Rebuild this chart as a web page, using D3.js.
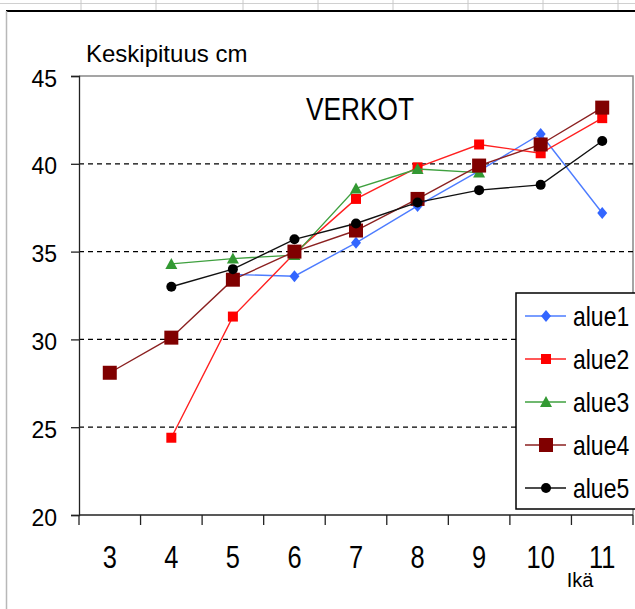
<!DOCTYPE html>
<html>
<head>
<meta charset="utf-8">
<script src="https://cdn.jsdelivr.net/npm/d3@7"></script>
<style>
  html, body { margin: 0; padding: 0; background: #fff; }
  svg { display: block; font-family: "Liberation Sans", Arial, sans-serif; }
</style>
</head>
<body>
<svg id="chart" width="635" height="609"></svg>
<script>
// ages on the x axis (Ikä)
const ages = [3, 4, 5, 6, 7, 8, 9, 10, 11];
const yTicks = [20, 25, 30, 35, 40, 45];
const gridValues = [25, 30, 35, 40];

// mean length (cm) per area, null = no catch
const alue1 = [null, null, 33.7, 33.6, 35.5, 37.6, 39.6, 41.7, 37.2];
const alue2 = [null, 24.4, 31.3, 34.9, 38.0, 39.8, 41.1, 40.6, 42.6];
const alue3 = [null, 34.3, 34.6, 34.8, 38.6, 39.7, 39.5, null, null];
const alue4 = [28.1, 30.1, 33.4, 35.0, 36.2, 38.0, 39.9, 41.1, 43.2];
const alue5 = [null, 33.0, 34.0, 35.7, 36.6, 37.8, 38.5, 38.8, 41.3];

const seriesNames = ["alue1", "alue2", "alue3", "alue4", "alue5"];
const seriesValues = [alue1, alue2, alue3, alue4, alue5];

const styles = {
  alue1: { color: "#3366ff", line: "#4d7cff", shape: "diamond", size: 6 },
  alue2: { color: "#ff0000", line: "#ff2020", shape: "square", size: 5 },
  alue3: { color: "#339933", line: "#3fa03f", shape: "triangle", size: 6 },
  alue4: { color: "#800000", line: "#8b2020", shape: "square", size: 7 },
  alue5: { color: "#000000", line: "#111111", shape: "circle", size: 5 },
};

const svg = d3.select("svg#chart");
const plot = { left: 79, right: 633, top: 76, bottom: 515 };
const squeeze = 0.82; // no narrow font installed, so squeeze horizontally

const x = d3.scaleBand().domain(ages).range([plot.left, plot.right]);
const y = d3.scaleLinear().domain([20, 45]).range([plot.bottom, plot.top]);
const cx = (d) => x(d) + x.bandwidth() / 2;

// spreadsheet background bits around the chart object
const sheet = svg.append("g");
sheet.append("line").attr("x1", 0).attr("x2", 635).attr("y1", 3.5).attr("y2", 3.5)
  .attr("stroke", "#d0d0d0");
[81, 156, 243, 318, 393, 468, 543, 618].forEach((sx) => {
  sheet.append("line").attr("x1", sx).attr("x2", sx).attr("y1", 0).attr("y2", 10)
    .attr("stroke", "#c8c8c8");
});
sheet.append("line").attr("x1", 6).attr("x2", 635).attr("y1", 11).attr("y2", 11)
  .attr("stroke", "#000").attr("stroke-width", 2);
sheet.append("line").attr("x1", 6.5).attr("x2", 6.5).attr("y1", 11).attr("y2", 609)
  .attr("stroke", "#b8b8b8").attr("stroke-width", 1.5);

// plot area border (top + right)
svg.append("path")
  .attr("d", `M${plot.left},${plot.top}H${plot.right}V${plot.bottom}`)
  .attr("fill", "none").attr("stroke", "#888").attr("stroke-width", 1.5);

// dashed gridlines
svg.append("g")
  .selectAll("line")
  .data(gridValues)
  .join("line")
  .attr("x1", plot.left).attr("x2", plot.right)
  .attr("y1", (d) => y(d)).attr("y2", (d) => y(d))
  .attr("stroke", "#000").attr("stroke-width", 1.3)
  .attr("stroke-dasharray", "5,4");

// y axis
const yAxis = svg.append("g")
  .attr("transform", `translate(${plot.left},0)`)
  .call(d3.axisLeft(y).tickValues(yTicks).tickSize(8).tickPadding(14));
yAxis.select(".domain").attr("stroke", "#222").attr("stroke-width", 1.3);
yAxis.selectAll(".tick line").attr("stroke", "#222").attr("stroke-width", 1.3);
yAxis.selectAll(".tick text")
  .attr("font-size", 23).attr("font-family", "Liberation Sans, Arial, sans-serif")
  .attr("fill", "#000").attr("dy", 10);

// x axis: ticks on the band edges, labels in the middle
const xAxis = svg.append("g");
xAxis.append("line")
  .attr("x1", plot.left).attr("x2", plot.right)
  .attr("y1", plot.bottom).attr("y2", plot.bottom)
  .attr("stroke", "#222").attr("stroke-width", 1.3);
xAxis.selectAll("line.tick")
  .data(ages.map((d) => x(d)).concat([x.range()[1]]))
  .join("line")
  .attr("class", "tick")
  .attr("x1", (d) => d).attr("x2", (d) => d)
  .attr("y1", plot.bottom).attr("y2", plot.bottom + 10)
  .attr("stroke", "#222").attr("stroke-width", 1.3);
xAxis.selectAll("text")
  .data(ages)
  .join("text")
  .attr("transform", (d) => `translate(${cx(d)},568) scale(${squeeze},1)`)
  .attr("text-anchor", "middle")
  .attr("font-size", 31)
  .text((d) => d);

// texts
svg.append("text").attr("x", 86).attr("y", 62).attr("font-size", 24)
  .text("Keskipituus cm");
svg.append("text")
  .attr("transform", `translate(360,120) scale(${squeeze},1)`)
  .attr("text-anchor", "middle").attr("font-size", 32)
  .text("VERKOT");
svg.append("text").attr("x", 580).attr("y", 587).attr("text-anchor", "middle")
  .attr("font-size", 20).text("Ikä");

// marker shapes
function marker(sel, name) {
  const s = styles[name];
  const r = s.size;
  let d;
  if (s.shape === "diamond") d = `M0,${-r}L${r - 1},0L0,${r}L${-(r - 1)},0Z`;
  else if (s.shape === "square") d = `M${-r},${-r}H${r}V${r}H${-r}Z`;
  else if (s.shape === "triangle") d = `M0,${-r}L${r},${r - 1}H${-r}Z`;
  else d = d3.symbol(d3.symbolCircle, Math.PI * r * r)();
  sel.append("path").attr("d", d).attr("fill", s.color);
}

// series
const line = d3.line()
  .defined((d) => d.v != null)
  .x((d) => cx(d.age))
  .y((d) => y(d.v));

seriesNames.forEach((name, i) => {
  const pts = ages.map((age, j) => ({ age, v: seriesValues[i][j] }));
  const g = svg.append("g");
  g.append("path")
    .datum(pts)
    .attr("d", line)
    .attr("fill", "none")
    .attr("stroke", styles[name].line)
    .attr("stroke-width", 1.4);
  g.selectAll("g.pt")
    .data(pts.filter((d) => d.v != null))
    .join("g")
    .attr("class", "pt")
    .attr("transform", (d) => `translate(${cx(d.age)},${y(d.v)})`)
    .each(function () { marker(d3.select(this), name); });
});

// legend
const legend = svg.append("g");
legend.append("rect")
  .attr("x", 516).attr("y", 293).attr("width", 125).attr("height", 216)
  .attr("fill", "#fff").attr("stroke", "#000").attr("stroke-width", 1.5);
const item = legend.selectAll("g.item")
  .data(seriesNames)
  .join("g")
  .attr("class", "item")
  .attr("transform", (d, i) => `translate(0,${316 + i * 43})`);
item.append("line")
  .attr("x1", 525).attr("x2", 566).attr("y1", 0).attr("y2", 0)
  .attr("stroke", (d) => styles[d].line).attr("stroke-width", 1.4);
item.append("g")
  .attr("transform", "translate(546,0)")
  .each(function (d) { marker(d3.select(this), d); });
item.append("text")
  .attr("transform", `translate(573,10) scale(${squeeze},1)`)
  .attr("font-size", 28)
  .text((d) => d);
</script>
</body>
</html>
